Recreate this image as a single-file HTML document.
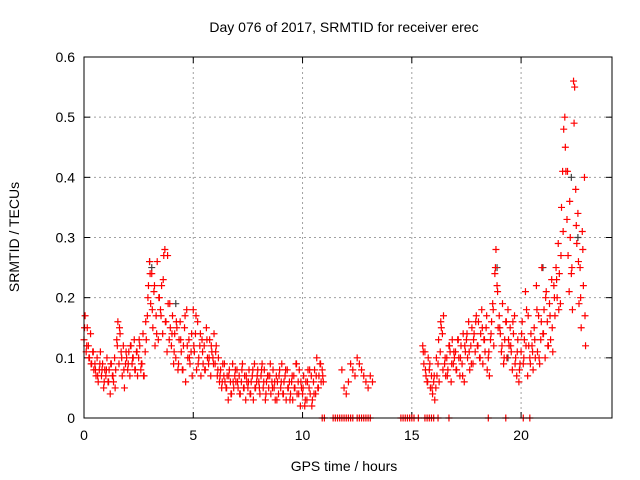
<!DOCTYPE html>
<html><head><meta charset="utf-8"><style>
body{margin:0;background:#fff;}
svg{display:block;font-family:"Liberation Sans",sans-serif;}
</style></head><body>
<svg id="chart" width="640" height="480" viewBox="0 0 640 480" xmlns="http://www.w3.org/2000/svg">
<text x="344" y="32" font-size="14" text-anchor="middle">Day 076 of 2017, SRMTID for receiver erec</text>
<text x="19" y="237" font-size="14" text-anchor="middle" transform="rotate(-90 19 237)">SRMTID / TECUs</text>
<text x="344" y="471" font-size="14" text-anchor="middle">GPS time / hours</text>
<g id="grid"></g>
<g id="ticks"></g>
<g id="gray"></g>
<g id="red"></g>
<rect x="84" y="57" width="528" height="361" fill="none" stroke="#000" stroke-width="1"/>
</svg>
<script>
const xTicks=[0,5,10,15,20];
const yTicks=[0,0.1,0.2,0.3,0.4,0.5,0.6];
const yTickLabels=["0","0.1","0.2","0.3","0.4","0.5","0.6"];
const segAStart=0, segAStep=0.05;
const segAValues=[13,17,11,15,12,10,14,9,11,8, 9,7,10,6,8,11,7,9,5,8, 7,10,6,8,4,9,7,6,10,8, 13,16,9,14,11,7,12,5,9,10,
8,11,7,12,9,10,13,8,11,7, 10,12,8,9,14,7,11,13,17,22, 26,19,24,15,21,12,17,26,13,20, 18,22,14,27,28,16,11,19,13,15,
12,17,9,14,10,15,8,13,16,11, 8,12,15,6,18,10,13,9,11,7, 18,11,14,8,16,10,12,7,13,9, 12,8,15,10,9,13,7,11,10,14,
9,12,7,10,6,8,5,9,7,6, 5,7,3,8,6,4,9,5,7,6, 8,5,7,4,6,9,5,7,3,6, 5,8,4,6,7,3,9,5,6,8,
6,4,7,9,5,8,3,6,7,5, 7,4,6,8,5,3,7,6,4,8, 5,9,4,6,7,3,8,5,6,4, 6,3,7,5,9,4,6,8,2,5,
4,7,2,6,3,8,5,4,7,3, 6,8,4,10,5,7,9,6,8,6];
const segA2Start=0.025, segA2Step=0.1;
const segA2Values=[15,12,10,9,11,8,7,9,8,6, 8,6,9,7,5,12,15,10,8,11, 9,12,10,8,11,13,9,7,16,20, 24,18,22,14,20,17,23,16,27,19,
14,11,16,9,13,8,17,12,10,14, 12,17,9,14,11,8,13,10,12,9, 11,8,7,6,9,5,7,4,6,8, 6,4,8,5,7,6,4,8,5,7,
5,8,6,4,7,9,5,6,3,7, 6,4,8,5,3,7,5,9,4,6, 5,3,6,8,2,4,7,5,9,7];
const segBStart=11.8, segBStep=0.1;
const segBValues=[8,5,4,6,9,8,7,10,9,8,7,6,5,7,6];
const segCStart=15.5, segCStep=0.05;
const segCValues=[12,9,11,7,6,10,8,5,7,4, 6,3,5,7,9,6,11,15,14,17, 9,7,10,8,12,11,6,13,9,10, 11,8,13,10,7,12,9,14,6,11,
13,10,16,8,12,15,9,14,11,17, 12,16,10,14,18,9,13,11,15,8, 10,7,13,16,19,12,24,28,22,15, 17,14,11,19,9,13,16,10,18,12,
15,11,8,14,17,10,7,13,6,9, 11,16,9,13,21,18,7,12,10,14, 12,8,15,10,22,11,17,9,13,25, 14,18,10,21,16,12,19,13,23,11,
22,17,25,20,29,24,19,35,41,48, 50,41,33,27,21,30,24,18,56,55, 38,29,34,19,25,15,31,22,40,12];
const segC2Start=15.525, segC2Step=0.1;
const segC2Values=[11,8,6,9,5,7,10,13,16,8, 10,7,12,9,11,8,13,10,7,12, 14,11,9,13,16,12,10,15,13,17, 11,14,18,25,21,15,12,10,16,13,
12,16,9,11,8,14,10,12,17,9, 11,13,18,10,16,14,20,12,17,15, 20,23,18,27,31,45,41,36,25,49, 32,26,20,28,17];
const zeroTimes=[10.9,11.0,11.4,11.5,11.6,11.7,11.8,11.9,12.0,12.1,12.2,12.3,12.5,12.6,12.7,12.8,12.9,13.0,13.1,14.5,14.6,14.7,14.8,14.9,15.0,15.1,15.3,15.6,15.7,15.8,15.9,16.0,16.2,16.7,18.5,19.3,20.1,20.4];
const grayTimes=[3.0,3.1,4.2,18.9,19.4,21.0,22.3,22.6];
const grayValues=[0.26,0.25,0.19,0.25,0.10,0.25,0.40,0.30];

const NS="http://www.w3.org/2000/svg";
const X0=84,X1=612,Y0=418,Y1=57,XMAX=24.16,YMAX=0.6;
const xs=t=>X0+(X1-X0)*t/XMAX;
const ys=v=>Y0-(Y0-Y1)*v/YMAX;
function mk(tag,attrs,parent){const e=document.createElementNS(NS,tag);for(const k in attrs)e.setAttribute(k,attrs[k]);parent.appendChild(e);return e;}
const grid=document.getElementById('grid'),ticks=document.getElementById('ticks');
xTicks.forEach(t=>{const x=xs(t);
 if(t>0){const g=mk('line',{x1:x,x2:x,y1:Y1,y2:Y0,stroke:'#a0a0a0','stroke-dasharray':'2,3'},grid);
 
 }
 mk('line',{x1:x,x2:x,y1:Y0,y2:Y0-6,stroke:'#000'},ticks);
 mk('line',{x1:x,x2:x,y1:Y1,y2:Y1+6,stroke:'#000'},ticks);
 const l=mk('text',{x:x,y:Y0+22,'font-size':14,'text-anchor':'middle'},ticks);l.textContent=t;
 
 
});
yTicks.forEach((v,i)=>{const y=ys(v);
 if(v>0&&v<0.6){const g=mk('line',{x1:X0,x2:X1,y1:y,y2:y,stroke:'#a0a0a0','stroke-dasharray':'2,3'},grid);
 
 }
 mk('line',{x1:X0,x2:X0+6,y1:y,y2:y,stroke:'#000'},ticks);
 mk('line',{x1:X1,x2:X1-6,y1:y,y2:y,stroke:'#000'},ticks);
 const l=mk('text',{x:X0-9,y:y+5,'font-size':14,'text-anchor':'end'},ticks);l.textContent=yTickLabels[i];
 
 
});
function plus(t,v,g,col){const x=xs(t),y=ys(v);
 const p=mk('path',{d:`M${x-3.5} ${y}H${x+3.5}M${x} ${y-3.5}V${y+3.5}`,stroke:col,'stroke-width':1.2,fill:'none'},g);
 
 }
const gG=document.getElementById('gray'),gR=document.getElementById('red');
grayTimes.forEach((t,i)=>plus(t,grayValues[i],gG,'#404040'));
segAValues.forEach((v,i)=>plus(segAStart+i*segAStep,v/100,gR,'#ff0000'));
segA2Values.forEach((v,i)=>plus(segA2Start+i*segA2Step,v/100,gR,'#ff0000'));
segBValues.forEach((v,i)=>plus(segBStart+i*segBStep,v/100,gR,'#ff0000'));
segCValues.forEach((v,i)=>plus(segCStart+i*segCStep,v/100,gR,'#ff0000'));
segC2Values.forEach((v,i)=>plus(segC2Start+i*segC2Step,v/100,gR,'#ff0000'));
zeroTimes.forEach(t=>plus(t,0,gR,'#ff0000'));
</script>
</body></html>
